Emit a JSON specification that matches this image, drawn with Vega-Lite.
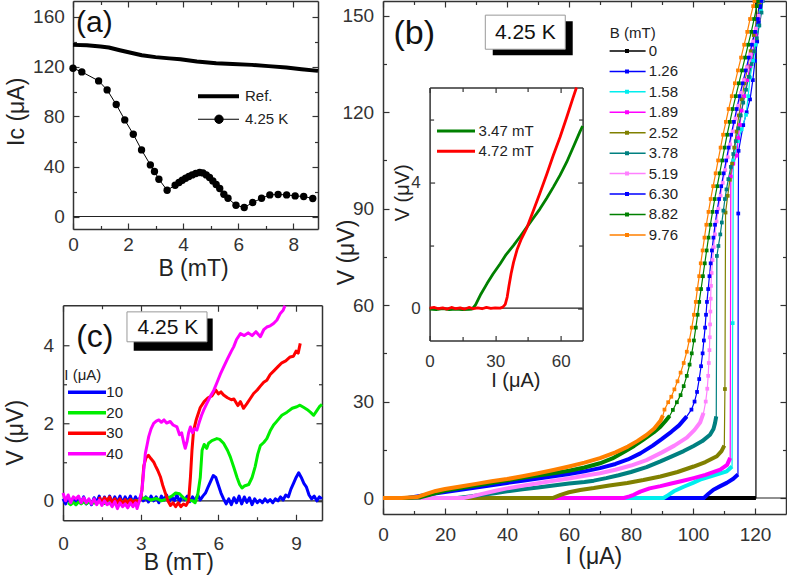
{
"$schema": "https://vega.github.io/schema/vega-lite/v6.json",
"background": "white",
"padding": {"left": 4, "top": -2, "right": 0, "bottom": 0},
"config": {
 "view": {"stroke": null},
 "font": "Liberation Sans",
 "axis": {"domainColor": "#333", "domainWidth": 1.5, "tickColor": "#333", "tickWidth": 1.2, "labelFont": "Liberation Sans", "labelFontSize": 19, "labelColor": "#333", "titleFont": "Liberation Sans", "titleFontSize": 23, "titleFontWeight": "normal", "titleColor": "#222", "grid": false, "labelFlush": false, "labelOverlap": false},
 "legend": {"padding": 0, "labelFont": "Liberation Sans", "titleFont": "Liberation Sans", "labelFontSize": 15, "titleFontSize": 15, "titleFontWeight": "normal", "labelColor": "#222", "titleColor": "#222"}
},
"datasets": {
 "a": [
  {"s":"Ref.","B":0,"Ic":137.3},{"s":"Ref.","B":0.5,"Ic":137},{"s":"Ref.","B":1.0,"Ic":136},{"s":"Ref.","B":1.3,"Ic":135.2},{"s":"Ref.","B":1.7,"Ic":133},{"s":"Ref.","B":2.1,"Ic":131},{"s":"Ref.","B":2.5,"Ic":129},{"s":"Ref.","B":3.0,"Ic":127.5},{"s":"Ref.","B":3.5,"Ic":126.5},{"s":"Ref.","B":3.9,"Ic":125.8},{"s":"Ref.","B":4.5,"Ic":124},{"s":"Ref.","B":5.2,"Ic":122.6},{"s":"Ref.","B":5.8,"Ic":122},{"s":"Ref.","B":6.5,"Ic":121.3},{"s":"Ref.","B":7.1,"Ic":120.3},{"s":"Ref.","B":7.75,"Ic":119.2},{"s":"Ref.","B":8.3,"Ic":117.8},{"s":"Ref.","B":8.9,"Ic":116.5},
  {"s":"4.25 K","B":0,"Ic":118.6},{"s":"4.25 K","B":0.32,"Ic":115.7},{"s":"4.25 K","B":0.93,"Ic":108.5},{"s":"4.25 K","B":1.24,"Ic":101.3},{"s":"4.25 K","B":1.57,"Ic":89.6},{"s":"4.25 K","B":1.88,"Ic":77.3},{"s":"4.25 K","B":2.19,"Ic":65.8},{"s":"4.25 K","B":2.49,"Ic":53.3},{"s":"4.25 K","B":2.81,"Ic":41.3},{"s":"4.25 K","B":2.96,"Ic":36},{"s":"4.25 K","B":3.12,"Ic":29.8},{"s":"4.25 K","B":3.42,"Ic":21},{"s":"4.25 K","B":3.71,"Ic":25},{"s":"4.25 K","B":3.85,"Ic":27.2},{"s":"4.25 K","B":3.97,"Ic":29},{"s":"4.25 K","B":4.09,"Ic":30.6},{"s":"4.25 K","B":4.21,"Ic":32},{"s":"4.25 K","B":4.33,"Ic":33.3},{"s":"4.25 K","B":4.46,"Ic":34.4},{"s":"4.25 K","B":4.6,"Ic":35.2},{"s":"4.25 K","B":4.72,"Ic":34.9},{"s":"4.25 K","B":4.84,"Ic":33.3},{"s":"4.25 K","B":4.96,"Ic":31.2},{"s":"4.25 K","B":5.08,"Ic":28.5},{"s":"4.25 K","B":5.2,"Ic":25.6},{"s":"4.25 K","B":5.33,"Ic":22.4},{"s":"4.25 K","B":5.48,"Ic":17.8},{"s":"4.25 K","B":5.63,"Ic":14.6},{"s":"4.25 K","B":5.92,"Ic":9},{"s":"4.25 K","B":6.22,"Ic":7.2},{"s":"4.25 K","B":6.53,"Ic":11.2},{"s":"4.25 K","B":6.85,"Ic":14.6},{"s":"4.25 K","B":7.15,"Ic":17.3},{"s":"4.25 K","B":7.45,"Ic":17.6},{"s":"4.25 K","B":7.76,"Ic":17.3},{"s":"4.25 K","B":8.07,"Ic":16.5},{"s":"4.25 K","B":8.38,"Ic":16},{"s":"4.25 K","B":8.71,"Ic":14.4}
 ],
 "b": [
  {"B":"0","I":0,"V":0},{"B":"0","I":10,"V":0},{"B":"0","I":20,"V":0},{"B":"0","I":30,"V":0},{"B":"0","I":40,"V":0},{"B":"0","I":50,"V":0},{"B":"0","I":60,"V":0},{"B":"0","I":70,"V":0},{"B":"0","I":80,"V":0},{"B":"0","I":90,"V":0},{"B":"0","I":100,"V":0},{"B":"0","I":110,"V":0},{"B":"0","I":120.3,"V":0},{"B":"0","I":120.4,"V":154.6},
  {"B":"1.26","I":0,"V":0},{"B":"1.26","I":20,"V":0},{"B":"1.26","I":40,"V":0},{"B":"1.26","I":60,"V":0},{"B":"1.26","I":80,"V":0},{"B":"1.26","I":100,"V":0},{"B":"1.26","I":103.5,"V":0},{"B":"1.26","I":105,"V":1.3},{"B":"1.26","I":106.6,"V":2.6},{"B":"1.26","I":108.8,"V":3.7},{"B":"1.26","I":110.9,"V":4.7},{"B":"1.26","I":113,"V":6.0},{"B":"1.26","I":114.5,"V":7.3},{"B":"1.26","I":114.6,"V":88.5},{"B":"1.26","I":114.7,"V":108},{"B":"1.26","I":116.2,"V":116},{"B":"1.26","I":117.3,"V":120},{"B":"1.26","I":118.4,"V":124},{"B":"1.26","I":119.3,"V":130},{"B":"1.26","I":120,"V":136},{"B":"1.26","I":120.7,"V":142},{"B":"1.26","I":121.2,"V":148},{"B":"1.26","I":121.6,"V":152},{"B":"1.26","I":121.8,"V":154.6},
  {"B":"1.58","I":0,"V":0},{"B":"1.58","I":20,"V":0},{"B":"1.58","I":40,"V":0},{"B":"1.58","I":60,"V":0},{"B":"1.58","I":80,"V":0},{"B":"1.58","I":90.5,"V":0},{"B":"1.58","I":92,"V":0.9},{"B":"1.58","I":93.8,"V":2.1},{"B":"1.58","I":97,"V":3.5},{"B":"1.58","I":100,"V":4.7},{"B":"1.58","I":102.3,"V":5.7},{"B":"1.58","I":106.5,"V":7.0},{"B":"1.58","I":110.9,"V":8.3},{"B":"1.58","I":112.6,"V":9.8},{"B":"1.58","I":112.8,"V":54.4},{"B":"1.58","I":113,"V":105},{"B":"1.58","I":114.5,"V":111},{"B":"1.58","I":115.7,"V":114.7},{"B":"1.58","I":117.1,"V":119.2},{"B":"1.58","I":117.8,"V":125},{"B":"1.58","I":118.4,"V":130.8},{"B":"1.58","I":119.4,"V":136},{"B":"1.58","I":120.2,"V":141},{"B":"1.58","I":121.1,"V":146.8},{"B":"1.58","I":121.9,"V":151.5},{"B":"1.58","I":122.3,"V":154.6},
  {"B":"1.89","I":0,"V":0},{"B":"1.89","I":20,"V":0},{"B":"1.89","I":40,"V":0},{"B":"1.89","I":60,"V":0},{"B":"1.89","I":77.7,"V":0},{"B":"1.89","I":79.5,"V":0.5},{"B":"1.89","I":80.9,"V":1.0},{"B":"1.89","I":83,"V":2.0},{"B":"1.89","I":86,"V":3.0},{"B":"1.89","I":89.5,"V":3.7},{"B":"1.89","I":93,"V":4.5},{"B":"1.89","I":96.5,"V":5.3},{"B":"1.89","I":100.2,"V":6.2},{"B":"1.89","I":104,"V":7.2},{"B":"1.89","I":108.8,"V":8.8},{"B":"1.89","I":111,"V":10.3},{"B":"1.89","I":112,"V":12.5},{"B":"1.89","I":112.2,"V":100},{"B":"1.89","I":113,"V":104},{"B":"1.89","I":114.1,"V":106.5},{"B":"1.89","I":114.6,"V":112},{"B":"1.89","I":115.1,"V":116},{"B":"1.89","I":115.7,"V":120.5},{"B":"1.89","I":116.5,"V":125},{"B":"1.89","I":117.5,"V":130},{"B":"1.89","I":118.4,"V":134.4},{"B":"1.89","I":119.3,"V":139},{"B":"1.89","I":120.2,"V":144},{"B":"1.89","I":121.1,"V":149},{"B":"1.89","I":121.9,"V":154.6},
  {"B":"2.52","I":0,"V":0},{"B":"2.52","I":20,"V":0},{"B":"2.52","I":40,"V":0},{"B":"2.52","I":54.7,"V":0},{"B":"2.52","I":57.3,"V":1.0},{"B":"2.52","I":60,"V":1.8},{"B":"2.52","I":63.6,"V":2.5},{"B":"2.52","I":68,"V":3.1},{"B":"2.52","I":73,"V":3.9},{"B":"2.52","I":78.8,"V":4.7},{"B":"2.52","I":84,"V":5.6},{"B":"2.52","I":89.5,"V":6.7},{"B":"2.52","I":95,"V":8.1},{"B":"2.52","I":100.2,"V":9.8},{"B":"2.52","I":104,"V":11.2},{"B":"2.52","I":107.7,"V":13.0},{"B":"2.52","I":109.2,"V":14.6},{"B":"2.52","I":110.1,"V":16.3},{"B":"2.52","I":110.3,"V":33.9},{"B":"2.52","I":110.5,"V":88.8},{"B":"2.52","I":111.2,"V":94},{"B":"2.52","I":111.9,"V":99},{"B":"2.52","I":112.6,"V":104},{"B":"2.52","I":113.3,"V":109},{"B":"2.52","I":114,"V":114},{"B":"2.52","I":114.8,"V":119},{"B":"2.52","I":115.7,"V":124},{"B":"2.52","I":116.6,"V":129},{"B":"2.52","I":117.6,"V":134},{"B":"2.52","I":118.6,"V":139},{"B":"2.52","I":119.6,"V":144},{"B":"2.52","I":120.6,"V":149},{"B":"2.52","I":121.5,"V":154},{"B":"2.52","I":121.6,"V":154.6},
  {"B":"3.78","I":0,"V":0},{"B":"3.78","I":12,"V":0},{"B":"3.78","I":24,"V":0},{"B":"3.78","I":28,"V":0.5},{"B":"3.78","I":32,"V":1.0},{"B":"3.78","I":36,"V":1.5},{"B":"3.78","I":40,"V":2.1},{"B":"3.78","I":45,"V":2.7},{"B":"3.78","I":50,"V":3.3},{"B":"3.78","I":55,"V":3.9},{"B":"3.78","I":60,"V":4.5},{"B":"3.78","I":65,"V":5.0},{"B":"3.78","I":68,"V":5.4},{"B":"3.78","I":72,"V":6.2},{"B":"3.78","I":76,"V":7.1},{"B":"3.78","I":80,"V":8.1},{"B":"3.78","I":85,"V":9.6},{"B":"3.78","I":89.5,"V":11.4},{"B":"3.78","I":93,"V":12.9},{"B":"3.78","I":97,"V":14.6},{"B":"3.78","I":100.2,"V":16.2},{"B":"3.78","I":103,"V":17.7},{"B":"3.78","I":105.5,"V":19.7},{"B":"3.78","I":106.6,"V":21.5},{"B":"3.78","I":107.1,"V":23.3},{"B":"3.78","I":107.5,"V":25.4},{"B":"3.78","I":107.7,"V":75.3},{"B":"3.78","I":108.2,"V":78.4},{"B":"3.78","I":108.8,"V":82},{"B":"3.78","I":109.3,"V":85.7},{"B":"3.78","I":109.8,"V":89.4},{"B":"3.78","I":110.3,"V":93},{"B":"3.78","I":110.8,"V":96},{"B":"3.78","I":111.4,"V":99.2},{"B":"3.78","I":112.2,"V":103},{"B":"3.78","I":113,"V":107},{"B":"3.78","I":113.8,"V":111},{"B":"3.78","I":114.6,"V":115},{"B":"3.78","I":115.4,"V":119},{"B":"3.78","I":116.2,"V":123},{"B":"3.78","I":117.1,"V":127},{"B":"3.78","I":118,"V":131},{"B":"3.78","I":118.9,"V":135},{"B":"3.78","I":119.8,"V":139},{"B":"3.78","I":120.6,"V":143},{"B":"3.78","I":121.4,"V":147},{"B":"3.78","I":122.1,"V":151},{"B":"3.78","I":122.5,"V":154.6},
  {"B":"5.19","I":0,"V":0},{"B":"5.19","I":13,"V":0},{"B":"5.19","I":26,"V":0},{"B":"5.19","I":29,"V":0.6},{"B":"5.19","I":32,"V":1.3},{"B":"5.19","I":36,"V":2.2},{"B":"5.19","I":40,"V":3.0},{"B":"5.19","I":45,"V":3.8},{"B":"5.19","I":50,"V":4.6},{"B":"5.19","I":55,"V":5.4},{"B":"5.19","I":60,"V":6.1},{"B":"5.19","I":65,"V":6.9},{"B":"5.19","I":70,"V":7.7},{"B":"5.19","I":75,"V":8.8},{"B":"5.19","I":80,"V":10.1},{"B":"5.19","I":85,"V":11.8},{"B":"5.19","I":90,"V":14.2},{"B":"5.19","I":94,"V":16.3},{"B":"5.19","I":98,"V":18.8},{"B":"5.19","I":100.5,"V":21.2},{"B":"5.19","I":102.3,"V":23.5},{"B":"5.19","I":103.4,"V":26.5},{"B":"5.19","I":104.1,"V":30},{"B":"5.19","I":104.6,"V":34},{"B":"5.19","I":104.9,"V":38},{"B":"5.19","I":105.1,"V":42},{"B":"5.19","I":105.3,"V":46},{"B":"5.19","I":105.4,"V":50},{"B":"5.19","I":105.5,"V":54},{"B":"5.19","I":105.6,"V":58},{"B":"5.19","I":105.7,"V":62},{"B":"5.19","I":105.8,"V":66},{"B":"5.19","I":106.0,"V":70},{"B":"5.19","I":106.3,"V":74},{"B":"5.19","I":106.7,"V":78},{"B":"5.19","I":107.1,"V":82},{"B":"5.19","I":107.6,"V":86},{"B":"5.19","I":108.2,"V":90},{"B":"5.19","I":108.9,"V":94},{"B":"5.19","I":109.6,"V":98},{"B":"5.19","I":110.4,"V":102},{"B":"5.19","I":111.2,"V":106},{"B":"5.19","I":112.0,"V":110},{"B":"5.19","I":112.8,"V":114},{"B":"5.19","I":113.7,"V":118},{"B":"5.19","I":114.6,"V":122},{"B":"5.19","I":115.5,"V":126},{"B":"5.19","I":116.4,"V":130},{"B":"5.19","I":117.4,"V":134},{"B":"5.19","I":118.4,"V":138},{"B":"5.19","I":119.4,"V":142},{"B":"5.19","I":120.3,"V":146},{"B":"5.19","I":121.2,"V":150},{"B":"5.19","I":122.1,"V":154.6},
  {"B":"6.30","I":0,"V":0},{"B":"6.30","I":8,"V":0},{"B":"6.30","I":11,"V":0.5},{"B":"6.30","I":15,"V":1.2},{"B":"6.30","I":20,"V":1.9},{"B":"6.30","I":25,"V":2.6},{"B":"6.30","I":30,"V":3.3},{"B":"6.30","I":35,"V":4.0},{"B":"6.30","I":40,"V":4.7},{"B":"6.30","I":45,"V":5.4},{"B":"6.30","I":50,"V":6.1},{"B":"6.30","I":55,"V":6.8},{"B":"6.30","I":60,"V":7.5},{"B":"6.30","I":65,"V":8.3},{"B":"6.30","I":70,"V":9.3},{"B":"6.30","I":75,"V":10.6},{"B":"6.30","I":79,"V":12.0},{"B":"6.30","I":83,"V":13.9},{"B":"6.30","I":87,"V":16.3},{"B":"6.30","I":90,"V":18.4},{"B":"6.30","I":93,"V":20.6},{"B":"6.30","I":95.5,"V":22.6},{"B":"6.30","I":98,"V":25.4},{"B":"6.30","I":99.5,"V":27.5},{"B":"6.30","I":100.5,"V":30},{"B":"6.30","I":101.3,"V":33},{"B":"6.30","I":102,"V":37},{"B":"6.30","I":102.6,"V":41},{"B":"6.30","I":103.1,"V":45},{"B":"6.30","I":103.5,"V":49},{"B":"6.30","I":103.9,"V":53},{"B":"6.30","I":104.2,"V":57},{"B":"6.30","I":104.5,"V":61},{"B":"6.30","I":104.9,"V":65},{"B":"6.30","I":105.3,"V":69},{"B":"6.30","I":105.7,"V":73},{"B":"6.30","I":106.1,"V":77},{"B":"6.30","I":106.6,"V":81},{"B":"6.30","I":107.1,"V":85},{"B":"6.30","I":107.7,"V":89},{"B":"6.30","I":108.4,"V":93},{"B":"6.30","I":109.1,"V":97},{"B":"6.30","I":109.9,"V":101},{"B":"6.30","I":110.7,"V":105},{"B":"6.30","I":111.5,"V":109},{"B":"6.30","I":112.3,"V":113},{"B":"6.30","I":113.2,"V":117},{"B":"6.30","I":114.1,"V":121},{"B":"6.30","I":115,"V":125},{"B":"6.30","I":116,"V":129},{"B":"6.30","I":117,"V":133},{"B":"6.30","I":118,"V":137},{"B":"6.30","I":119,"V":141},{"B":"6.30","I":120,"V":145},{"B":"6.30","I":120.9,"V":149},{"B":"6.30","I":121.7,"V":153},{"B":"6.30","I":122,"V":154.6},
  {"B":"8.82","I":0,"V":0},{"B":"8.82","I":7,"V":0},{"B":"8.82","I":12,"V":0.2},{"B":"8.82","I":15,"V":1.0},{"B":"8.82","I":20,"V":2.3},{"B":"8.82","I":25,"V":3.1},{"B":"8.82","I":30,"V":3.9},{"B":"8.82","I":35,"V":4.7},{"B":"8.82","I":40,"V":5.5},{"B":"8.82","I":45,"V":6.3},{"B":"8.82","I":50,"V":7.0},{"B":"8.82","I":55,"V":7.7},{"B":"8.82","I":60,"V":8.5},{"B":"8.82","I":65,"V":9.5},{"B":"8.82","I":70,"V":10.8},{"B":"8.82","I":74,"V":12.3},{"B":"8.82","I":77.7,"V":14.3},{"B":"8.82","I":81,"V":16.2},{"B":"8.82","I":84,"V":18.2},{"B":"8.82","I":87.3,"V":20.4},{"B":"8.82","I":89.5,"V":22.2},{"B":"8.82","I":91,"V":23.8},{"B":"8.82","I":92.5,"V":25.6},{"B":"8.82","I":93.5,"V":27.4},{"B":"8.82","I":94.8,"V":29.8},{"B":"8.82","I":96,"V":32},{"B":"8.82","I":97,"V":34.8},{"B":"8.82","I":98,"V":38},{"B":"8.82","I":98.9,"V":41.5},{"B":"8.82","I":99.6,"V":45},{"B":"8.82","I":100.3,"V":49},{"B":"8.82","I":100.9,"V":53},{"B":"8.82","I":101.5,"V":57},{"B":"8.82","I":102,"V":61},{"B":"8.82","I":102.6,"V":65},{"B":"8.82","I":103.2,"V":69},{"B":"8.82","I":103.8,"V":73},{"B":"8.82","I":104.4,"V":77},{"B":"8.82","I":105,"V":81},{"B":"8.82","I":105.6,"V":85},{"B":"8.82","I":106.3,"V":89},{"B":"8.82","I":107,"V":93},{"B":"8.82","I":107.8,"V":97},{"B":"8.82","I":108.6,"V":101},{"B":"8.82","I":109.4,"V":105},{"B":"8.82","I":110.2,"V":109},{"B":"8.82","I":111,"V":113},{"B":"8.82","I":111.9,"V":117},{"B":"8.82","I":112.8,"V":121},{"B":"8.82","I":113.8,"V":125},{"B":"8.82","I":114.8,"V":129},{"B":"8.82","I":115.8,"V":133},{"B":"8.82","I":116.8,"V":137},{"B":"8.82","I":117.8,"V":141},{"B":"8.82","I":118.8,"V":145},{"B":"8.82","I":119.7,"V":149},{"B":"8.82","I":120.6,"V":153},{"B":"8.82","I":120.9,"V":154.6},
  {"B":"9.76","I":0,"V":0},{"B":"9.76","I":6,"V":0},{"B":"9.76","I":11,"V":0.3},{"B":"9.76","I":14,"V":1.3},{"B":"9.76","I":17,"V":2.2},{"B":"9.76","I":20,"V":2.8},{"B":"9.76","I":25,"V":3.6},{"B":"9.76","I":30,"V":4.4},{"B":"9.76","I":35,"V":5.2},{"B":"9.76","I":40,"V":5.9},{"B":"9.76","I":45,"V":6.8},{"B":"9.76","I":50,"V":7.7},{"B":"9.76","I":55,"V":8.7},{"B":"9.76","I":60,"V":9.8},{"B":"9.76","I":65,"V":11.0},{"B":"9.76","I":70,"V":12.4},{"B":"9.76","I":75,"V":14.2},{"B":"9.76","I":79,"V":16.0},{"B":"9.76","I":82,"V":17.7},{"B":"9.76","I":85,"V":19.6},{"B":"9.76","I":87.5,"V":21.6},{"B":"9.76","I":89.5,"V":24.0},{"B":"9.76","I":90.3,"V":25.7},{"B":"9.76","I":90.8,"V":27.5},{"B":"9.76","I":92,"V":29.8},{"B":"9.76","I":93,"V":31.5},{"B":"9.76","I":94,"V":33.8},{"B":"9.76","I":95,"V":36.3},{"B":"9.76","I":96,"V":39},{"B":"9.76","I":97,"V":42},{"B":"9.76","I":98,"V":45.5},{"B":"9.76","I":98.8,"V":49},{"B":"9.76","I":99.6,"V":53},{"B":"9.76","I":100.3,"V":57},{"B":"9.76","I":100.9,"V":61},{"B":"9.76","I":101.4,"V":65},{"B":"9.76","I":102,"V":69},{"B":"9.76","I":102.5,"V":73},{"B":"9.76","I":103.1,"V":77},{"B":"9.76","I":103.7,"V":81},{"B":"9.76","I":104.3,"V":85},{"B":"9.76","I":105,"V":89},{"B":"9.76","I":105.7,"V":93},{"B":"9.76","I":106.5,"V":97},{"B":"9.76","I":107.3,"V":101},{"B":"9.76","I":108.1,"V":105},{"B":"9.76","I":108.9,"V":109},{"B":"9.76","I":109.7,"V":113},{"B":"9.76","I":110.6,"V":117},{"B":"9.76","I":111.5,"V":121},{"B":"9.76","I":112.5,"V":125},{"B":"9.76","I":113.5,"V":129},{"B":"9.76","I":114.5,"V":133},{"B":"9.76","I":115.5,"V":137},{"B":"9.76","I":116.5,"V":141},{"B":"9.76","I":117.5,"V":145},{"B":"9.76","I":118.4,"V":149},{"B":"9.76","I":119.4,"V":153},{"B":"9.76","I":119.8,"V":154.6}
 ],
 "c": [
  {"I":"10","B":0.0,"V":0.05},{"I":"10","B":0.1,"V":-0.08},{"I":"10","B":0.2,"V":0.1},{"I":"10","B":0.3,"V":-0.05},{"I":"10","B":0.4,"V":0.08},{"I":"10","B":0.5,"V":-0.1},{"I":"10","B":0.6,"V":0.05},{"I":"10","B":0.7,"V":-0.06},{"I":"10","B":0.8,"V":0.1},{"I":"10","B":0.9,"V":-0.08},{"I":"10","B":1.0,"V":0.02},{"I":"10","B":1.1,"V":-0.1},{"I":"10","B":1.2,"V":0.08},{"I":"10","B":1.3,"V":-0.04},{"I":"10","B":1.4,"V":0.12},{"I":"10","B":1.5,"V":-0.08},{"I":"10","B":1.6,"V":0.1},{"I":"10","B":1.7,"V":-0.05},{"I":"10","B":1.8,"V":0.12},{"I":"10","B":1.9,"V":-0.06},{"I":"10","B":2.0,"V":0.1},{"I":"10","B":2.1,"V":-0.04},{"I":"10","B":2.2,"V":0.12},{"I":"10","B":2.3,"V":-0.06},{"I":"10","B":2.4,"V":0.1},{"I":"10","B":2.5,"V":-0.03},{"I":"10","B":2.6,"V":0.12},{"I":"10","B":2.7,"V":-0.05},{"I":"10","B":2.8,"V":0.1},{"I":"10","B":2.9,"V":-0.02},{"I":"10","B":3.0,"V":0.12},{"I":"10","B":3.1,"V":0.0},{"I":"10","B":3.2,"V":0.1},{"I":"10","B":3.3,"V":-0.03},{"I":"10","B":3.4,"V":0.12},{"I":"10","B":3.5,"V":0.0},{"I":"10","B":3.6,"V":0.1},{"I":"10","B":3.7,"V":-0.05},{"I":"10","B":3.8,"V":0.12},{"I":"10","B":3.9,"V":0.02},{"I":"10","B":4.0,"V":0.15},{"I":"10","B":4.1,"V":-0.02},{"I":"10","B":4.2,"V":0.1},{"I":"10","B":4.3,"V":0.0},{"I":"10","B":4.4,"V":0.15},{"I":"10","B":4.5,"V":-0.02},{"I":"10","B":4.6,"V":0.1},{"I":"10","B":4.7,"V":0.03},{"I":"10","B":4.8,"V":0.12},{"I":"10","B":4.9,"V":-0.02},{"I":"10","B":5.0,"V":0.1},{"I":"10","B":5.1,"V":0.0},{"I":"10","B":5.2,"V":0.15},{"I":"10","B":5.3,"V":0.02},{"I":"10","B":5.4,"V":0.12},{"I":"10","B":5.5,"V":0.2},{"I":"10","B":5.6,"V":0.35},{"I":"10","B":5.7,"V":0.5},{"I":"10","B":5.8,"V":0.65},{"I":"10","B":5.9,"V":0.6},{"I":"10","B":6.0,"V":0.4},{"I":"10","B":6.1,"V":0.2},{"I":"10","B":6.2,"V":0.05},{"I":"10","B":6.3,"V":-0.08},{"I":"10","B":6.4,"V":0.05},{"I":"10","B":6.5,"V":-0.1},{"I":"10","B":6.6,"V":0.08},{"I":"10","B":6.7,"V":-0.05},{"I":"10","B":6.8,"V":0.12},{"I":"10","B":6.9,"V":-0.08},{"I":"10","B":7.0,"V":0.1},{"I":"10","B":7.1,"V":-0.04},{"I":"10","B":7.2,"V":0.08},{"I":"10","B":7.3,"V":-0.1},{"I":"10","B":7.4,"V":0.05},{"I":"10","B":7.5,"V":-0.05},{"I":"10","B":7.6,"V":0.02},{"I":"10","B":7.7,"V":-0.05},{"I":"10","B":7.8,"V":0.05},{"I":"10","B":7.9,"V":-0.03},{"I":"10","B":8.0,"V":0.03},{"I":"10","B":8.1,"V":-0.05},{"I":"10","B":8.2,"V":0.05},{"I":"10","B":8.3,"V":0.0},{"I":"10","B":8.4,"V":0.1},{"I":"10","B":8.5,"V":0.02},{"I":"10","B":8.6,"V":0.15},{"I":"10","B":8.7,"V":0.1},{"I":"10","B":8.8,"V":0.3},{"I":"10","B":8.9,"V":0.45},{"I":"10","B":9.0,"V":0.6},{"I":"10","B":9.1,"V":0.72},{"I":"10","B":9.2,"V":0.6},{"I":"10","B":9.3,"V":0.45},{"I":"10","B":9.4,"V":0.35},{"I":"10","B":9.5,"V":0.15},{"I":"10","B":9.6,"V":0.05},{"I":"10","B":9.7,"V":0.12},{"I":"10","B":9.8,"V":0.0},{"I":"10","B":9.9,"V":0.1},{"I":"10","B":10.0,"V":0.05},
  {"I":"20","B":0.2,"V":-0.05},{"I":"20","B":0.3,"V":-0.1},{"I":"20","B":0.4,"V":-0.04},{"I":"20","B":0.5,"V":-0.1},{"I":"20","B":0.6,"V":-0.03},{"I":"20","B":0.7,"V":-0.08},{"I":"20","B":0.8,"V":-0.02},{"I":"20","B":0.9,"V":-0.08},{"I":"20","B":1.0,"V":-0.03},{"I":"20","B":1.2,"V":-0.06},{"I":"20","B":1.4,"V":-0.02},{"I":"20","B":1.6,"V":-0.07},{"I":"20","B":1.8,"V":-0.02},{"I":"20","B":2.0,"V":-0.05},{"I":"20","B":2.2,"V":0.0},{"I":"20","B":2.4,"V":-0.04},{"I":"20","B":2.6,"V":0.02},{"I":"20","B":2.8,"V":-0.03},{"I":"20","B":3.0,"V":0.05},{"I":"20","B":3.2,"V":0.08},{"I":"20","B":3.4,"V":0.02},{"I":"20","B":3.6,"V":0.06},{"I":"20","B":3.8,"V":0.0},{"I":"20","B":4.0,"V":0.05},{"I":"20","B":4.2,"V":0.12},{"I":"20","B":4.35,"V":0.2},{"I":"20","B":4.5,"V":0.18},{"I":"20","B":4.65,"V":0.08},{"I":"20","B":4.8,"V":0.02},{"I":"20","B":5.0,"V":0.0},{"I":"20","B":5.1,"V":-0.05},{"I":"20","B":5.2,"V":0.15},{"I":"20","B":5.3,"V":0.6},{"I":"20","B":5.37,"V":1.3},{"I":"20","B":5.45,"V":1.45},{"I":"20","B":5.55,"V":1.35},{"I":"20","B":5.62,"V":1.48},{"I":"20","B":5.75,"V":1.55},{"I":"20","B":5.94,"V":1.6},{"I":"20","B":6.05,"V":1.58},{"I":"20","B":6.2,"V":1.48},{"I":"20","B":6.35,"V":1.3},{"I":"20","B":6.46,"V":1.13},{"I":"20","B":6.6,"V":0.85},{"I":"20","B":6.72,"V":0.6},{"I":"20","B":6.82,"V":0.42},{"I":"20","B":6.91,"V":0.33},{"I":"20","B":7.0,"V":0.38},{"I":"20","B":7.17,"V":0.42},{"I":"20","B":7.3,"V":0.6},{"I":"20","B":7.42,"V":0.88},{"I":"20","B":7.52,"V":1.2},{"I":"20","B":7.62,"V":1.42},{"I":"20","B":7.75,"V":1.5},{"I":"20","B":7.87,"V":1.6},{"I":"20","B":8.0,"V":1.8},{"I":"20","B":8.13,"V":1.95},{"I":"20","B":8.26,"V":2.05},{"I":"20","B":8.45,"V":2.2},{"I":"20","B":8.65,"V":2.28},{"I":"20","B":8.85,"V":2.38},{"I":"20","B":9.03,"V":2.42},{"I":"20","B":9.15,"V":2.46},{"I":"20","B":9.3,"V":2.4},{"I":"20","B":9.42,"V":2.35},{"I":"20","B":9.55,"V":2.28},{"I":"20","B":9.68,"V":2.2},{"I":"20","B":9.8,"V":2.32},{"I":"20","B":9.9,"V":2.42},{"I":"20","B":10.0,"V":2.48},
  {"I":"30","B":1.4,"V":0.1},{"I":"30","B":1.5,"V":-0.05},{"I":"30","B":1.6,"V":0.08},{"I":"30","B":1.7,"V":0.0},{"I":"30","B":1.8,"V":0.1},{"I":"30","B":1.9,"V":-0.05},{"I":"30","B":2.0,"V":0.05},{"I":"30","B":2.1,"V":-0.06},{"I":"30","B":2.2,"V":0.05},{"I":"30","B":2.3,"V":-0.08},{"I":"30","B":2.4,"V":0.03},{"I":"30","B":2.5,"V":-0.06},{"I":"30","B":2.6,"V":0.04},{"I":"30","B":2.7,"V":-0.05},{"I":"30","B":2.8,"V":0.02},{"I":"30","B":2.9,"V":-0.04},{"I":"30","B":3.0,"V":0.05},{"I":"30","B":3.05,"V":0.3},{"I":"30","B":3.12,"V":0.9},{"I":"30","B":3.2,"V":1.1},{"I":"30","B":3.3,"V":1.17},{"I":"30","B":3.4,"V":1.08},{"I":"30","B":3.5,"V":1.0},{"I":"30","B":3.57,"V":0.9},{"I":"30","B":3.66,"V":0.78},{"I":"30","B":3.76,"V":0.62},{"I":"30","B":3.85,"V":0.4},{"I":"30","B":3.95,"V":0.2},{"I":"30","B":4.05,"V":0.0},{"I":"30","B":4.15,"V":-0.12},{"I":"30","B":4.25,"V":-0.05},{"I":"30","B":4.35,"V":-0.15},{"I":"30","B":4.45,"V":-0.05},{"I":"30","B":4.55,"V":-0.15},{"I":"30","B":4.65,"V":-0.08},{"I":"30","B":4.75,"V":-0.12},{"I":"30","B":4.85,"V":0.0},{"I":"30","B":4.92,"V":0.6},{"I":"30","B":4.98,"V":1.3},{"I":"30","B":5.04,"V":1.8},{"I":"30","B":5.15,"V":2.1},{"I":"30","B":5.3,"V":2.4},{"I":"30","B":5.45,"V":2.55},{"I":"30","B":5.6,"V":2.65},{"I":"30","B":5.75,"V":2.7},{"I":"30","B":5.9,"V":2.85},{"I":"30","B":6.0,"V":2.75},{"I":"30","B":6.1,"V":2.8},{"I":"30","B":6.2,"V":2.72},{"I":"30","B":6.35,"V":2.65},{"I":"30","B":6.5,"V":2.6},{"I":"30","B":6.6,"V":2.62},{"I":"30","B":6.75,"V":2.45},{"I":"30","B":6.85,"V":2.55},{"I":"30","B":6.97,"V":2.38},{"I":"30","B":7.1,"V":2.5},{"I":"30","B":7.2,"V":2.6},{"I":"30","B":7.36,"V":2.76},{"I":"30","B":7.5,"V":2.85},{"I":"30","B":7.62,"V":2.95},{"I":"30","B":7.75,"V":3.05},{"I":"30","B":7.87,"V":3.1},{"I":"30","B":8.0,"V":3.25},{"I":"30","B":8.15,"V":3.35},{"I":"30","B":8.3,"V":3.45},{"I":"30","B":8.45,"V":3.55},{"I":"30","B":8.6,"V":3.6},{"I":"30","B":8.77,"V":3.7},{"I":"30","B":8.9,"V":3.72},{"I":"30","B":9.0,"V":3.85},{"I":"30","B":9.08,"V":3.8},{"I":"30","B":9.16,"V":4.05},
  {"I":"40","B":0.0,"V":0.2},{"I":"40","B":0.1,"V":0.0},{"I":"40","B":0.2,"V":0.15},{"I":"40","B":0.3,"V":-0.05},{"I":"40","B":0.4,"V":0.1},{"I":"40","B":0.5,"V":0.05},{"I":"40","B":0.6,"V":0.12},{"I":"40","B":0.7,"V":-0.05},{"I":"40","B":0.8,"V":0.08},{"I":"40","B":0.9,"V":-0.05},{"I":"40","B":1.0,"V":0.05},{"I":"40","B":1.1,"V":-0.08},{"I":"40","B":1.2,"V":0.05},{"I":"40","B":1.3,"V":-0.1},{"I":"40","B":1.4,"V":0.02},{"I":"40","B":1.5,"V":-0.12},{"I":"40","B":1.6,"V":0.0},{"I":"40","B":1.7,"V":-0.1},{"I":"40","B":1.8,"V":-0.05},{"I":"40","B":1.9,"V":-0.15},{"I":"40","B":2.0,"V":-0.02},{"I":"40","B":2.1,"V":-0.2},{"I":"40","B":2.2,"V":-0.05},{"I":"40","B":2.3,"V":-0.15},{"I":"40","B":2.4,"V":-0.08},{"I":"40","B":2.5,"V":-0.18},{"I":"40","B":2.6,"V":-0.05},{"I":"40","B":2.7,"V":-0.15},{"I":"40","B":2.8,"V":-0.05},{"I":"40","B":2.86,"V":-0.2},{"I":"40","B":2.95,"V":0.0},{"I":"40","B":3.05,"V":0.27},{"I":"40","B":3.12,"V":0.8},{"I":"40","B":3.18,"V":1.22},{"I":"40","B":3.25,"V":1.45},{"I":"40","B":3.31,"V":1.65},{"I":"40","B":3.4,"V":1.85},{"I":"40","B":3.5,"V":1.99},{"I":"40","B":3.6,"V":2.05},{"I":"40","B":3.7,"V":2.08},{"I":"40","B":3.8,"V":2.02},{"I":"40","B":3.9,"V":2.08},{"I":"40","B":4.0,"V":2.0},{"I":"40","B":4.14,"V":2.04},{"I":"40","B":4.25,"V":1.95},{"I":"40","B":4.4,"V":1.9},{"I":"40","B":4.5,"V":1.7},{"I":"40","B":4.58,"V":1.75},{"I":"40","B":4.66,"V":1.5},{"I":"40","B":4.72,"V":1.35},{"I":"40","B":4.79,"V":1.52},{"I":"40","B":4.85,"V":1.75},{"I":"40","B":4.92,"V":1.9},{"I":"40","B":5.0,"V":1.75},{"I":"40","B":5.08,"V":1.85},{"I":"40","B":5.17,"V":1.82},{"I":"40","B":5.25,"V":2.0},{"I":"40","B":5.35,"V":2.2},{"I":"40","B":5.43,"V":2.33},{"I":"40","B":5.55,"V":2.5},{"I":"40","B":5.7,"V":2.7},{"I":"40","B":5.82,"V":2.84},{"I":"40","B":5.95,"V":3.05},{"I":"40","B":6.07,"V":3.25},{"I":"40","B":6.2,"V":3.44},{"I":"40","B":6.35,"V":3.65},{"I":"40","B":6.5,"V":3.85},{"I":"40","B":6.59,"V":3.96},{"I":"40","B":6.7,"V":4.15},{"I":"40","B":6.85,"V":4.3},{"I":"40","B":7.0,"V":4.25},{"I":"40","B":7.15,"V":4.32},{"I":"40","B":7.3,"V":4.25},{"I":"40","B":7.45,"V":4.35},{"I":"40","B":7.62,"V":4.22},{"I":"40","B":7.75,"V":4.4},{"I":"40","B":7.87,"V":4.47},{"I":"40","B":8.0,"V":4.5},{"I":"40","B":8.13,"V":4.56},{"I":"40","B":8.26,"V":4.65},{"I":"40","B":8.39,"V":4.82},{"I":"40","B":8.5,"V":4.9},{"I":"40","B":8.57,"V":5.02}
 ],
 "ins": [
  {"m":"3.47 mT","I":0,"V":-0.03},{"m":"3.47 mT","I":3,"V":-0.05},{"m":"3.47 mT","I":6,"V":-0.02},{"m":"3.47 mT","I":9,"V":-0.05},{"m":"3.47 mT","I":12,"V":-0.03},{"m":"3.47 mT","I":15,"V":-0.05},{"m":"3.47 mT","I":18,"V":-0.04},{"m":"3.47 mT","I":19.4,"V":-0.03},{"m":"3.47 mT","I":20.9,"V":0.09},{"m":"3.47 mT","I":23.5,"V":0.45},{"m":"3.47 mT","I":26.2,"V":0.77},{"m":"3.47 mT","I":29,"V":1.08},{"m":"3.47 mT","I":32.3,"V":1.41},{"m":"3.47 mT","I":35,"V":1.7},{"m":"3.47 mT","I":38.4,"V":1.99},{"m":"3.47 mT","I":41.5,"V":2.28},{"m":"3.47 mT","I":44.5,"V":2.57},{"m":"3.47 mT","I":47.5,"V":2.86},{"m":"3.47 mT","I":50.5,"V":3.15},{"m":"3.47 mT","I":53.5,"V":3.48},{"m":"3.47 mT","I":56.6,"V":3.84},{"m":"3.47 mT","I":59.7,"V":4.22},{"m":"3.47 mT","I":62.7,"V":4.63},{"m":"3.47 mT","I":65.8,"V":5.12},{"m":"3.47 mT","I":68.8,"V":5.6},{"m":"3.47 mT","I":70,"V":5.78},
  {"m":"4.72 mT","I":0,"V":0.0},{"m":"4.72 mT","I":2,"V":0.02},{"m":"4.72 mT","I":4,"V":-0.02},{"m":"4.72 mT","I":6,"V":0.01},{"m":"4.72 mT","I":8,"V":-0.03},{"m":"4.72 mT","I":10,"V":0.02},{"m":"4.72 mT","I":12,"V":-0.02},{"m":"4.72 mT","I":14,"V":0.01},{"m":"4.72 mT","I":16,"V":-0.03},{"m":"4.72 mT","I":18,"V":0.02},{"m":"4.72 mT","I":20,"V":-0.02},{"m":"4.72 mT","I":22,"V":0.01},{"m":"4.72 mT","I":24,"V":-0.02},{"m":"4.72 mT","I":26,"V":0.02},{"m":"4.72 mT","I":28,"V":-0.01},{"m":"4.72 mT","I":30,"V":0.01},{"m":"4.72 mT","I":32.3,"V":0.0},{"m":"4.72 mT","I":33.5,"V":0.03},{"m":"4.72 mT","I":34.6,"V":0.12},{"m":"4.72 mT","I":35.5,"V":0.35},{"m":"4.72 mT","I":36.3,"V":0.7},{"m":"4.72 mT","I":37.3,"V":1.1},{"m":"4.72 mT","I":38.4,"V":1.45},{"m":"4.72 mT","I":40,"V":1.85},{"m":"4.72 mT","I":42,"V":2.2},{"m":"4.72 mT","I":44.5,"V":2.55},{"m":"4.72 mT","I":47.5,"V":3.1},{"m":"4.72 mT","I":50.5,"V":3.65},{"m":"4.72 mT","I":53.6,"V":4.25},{"m":"4.72 mT","I":56.6,"V":4.85},{"m":"4.72 mT","I":59.7,"V":5.43},{"m":"4.72 mT","I":62.7,"V":6.05},{"m":"4.72 mT","I":65.5,"V":6.65},{"m":"4.72 mT","I":67.2,"V":7.0}
 ]
},
"spacing": 11,
"resolve": {"scale": {"color": "independent", "strokeWidth": "independent"}, "legend": {"color": "independent", "strokeWidth": "independent"}},
"hconcat": [
 {
  "spacing": 23.25,
  "resolve": {"scale": {"color": "independent", "strokeWidth": "independent"}, "legend": {"color": "independent", "strokeWidth": "independent"}},
  "vconcat": [
   {
    "spacing": -68,
    "resolve": {"scale": {"color": "independent", "strokeWidth": "independent"}, "legend": {"color": "independent", "strokeWidth": "independent"}},
    "hconcat": [
     {"width": 9, "height": 1, "data": {"values": []}, "mark": "point"},
     {
      "width": 245, "height": 228,
      "layer": [
       {"data": {"values": [{}]}, "mark": {"type": "rule", "color": "#222", "strokeWidth": 1.2}, "encoding": {"y": {"datum": 0, "type": "quantitative", "axis": null, "scale": {"domain": [-10, 172.4], "nice": false, "zero": false}}}},
       {"data": {"name": "a"}, "mark": {"type": "line", "strokeJoin": "round"},
        "encoding": {
         "x": {"field": "B", "type": "quantitative", "scale": {"domain": [0, 8.9], "nice": false, "zero": false},
               "axis": {"orient": "bottom", "values": [0,1,2,3,4,5,6,7,8], "labelExpr": "datum.value % 2 === 0 ? datum.label : ''", "tickSize": {"condition": {"test": "datum.value % 2 === 0", "value": -6}, "value": -3.5}, "labelPadding": 12.2, "title": "B (mT)", "titleX": 120, "titleY": 28, "titleAlign": "center", "titleBaseline": "top", "titleAngle": 0}},
         "y": {"field": "Ic", "type": "quantitative",
               "axis": {"orient": "left", "values": [0,20,40,60,80,100,120,140,160], "labelExpr": "datum.value % 40 === 0 ? datum.label : ''", "tickSize": {"condition": {"test": "datum.value % 40 === 0", "value": -6}, "value": -3.5}, "labelPadding": 14.7, "title": "Iᴄ (μA)", "titleX": -68, "titleY": 110.3, "titleAngle": -90, "titleAlign": "center", "titleBaseline": "top"}},
         "color": {"field": "s", "type": "nominal", "scale": {"domain": ["Ref.", "4.25 K"], "range": ["#000000", "#000000"]},
                   "legend": {"orient": "none", "legendX": 117.5, "legendY": 87.75, "title": null, "rowPadding": 7, "labelOffset": 39.5, "symbolType": "M0,0H41", "symbolSize": 4, "symbolStrokeWidth": 4,
                              "encode": {"symbols": {"update": {"shape": {"signal": "datum.value === 'Ref.' ? 'M0,0H41' : 'M0,0H41M25.2,0A4.2,4.2,0,1,1,16.8,0A4.2,4.2,0,1,1,25.2,0Z'"}, "strokeWidth": {"signal": "datum.value === 'Ref.' ? 4 : 1"}, "fill": {"signal": "datum.value === 'Ref.' ? 'transparent' : '#000000'"}, "stroke": {"value": "#000000"}, "opacity": {"value": 1}}}}}},
         "strokeWidth": {"field": "s", "type": "nominal", "scale": {"domain": ["Ref.", "4.25 K"], "range": [4, 1]}, "legend": null}
        }},
       {"data": {"name": "a"}, "transform": [{"filter": "datum.s === '4.25 K'"}], "mark": {"type": "circle", "size": 54, "color": "#000000", "opacity": 1},
        "encoding": {"x": {"field": "B", "type": "quantitative", "axis": null}, "y": {"field": "Ic", "type": "quantitative", "axis": null}}},
       {"data": {"values": [{"t": "(a)"}]}, "mark": {"type": "text", "align": "left", "baseline": "middle", "fontSize": 30, "font": "Liberation Sans", "color": "#111"},
        "encoding": {
         "x": {"datum": 0.11, "type": "quantitative", "axis": {"orient": "top", "values": [0,1,2,3,4,5,6,7,8], "labels": false, "title": null, "tickSize": {"condition": {"test": "datum.value % 2 === 0", "value": -6}, "value": -3.5}}},
         "y": {"datum": 154.5, "type": "quantitative", "axis": {"orient": "right", "values": [0,20,40,60,80,100,120,140,160], "labels": false, "title": null, "tickSize": {"condition": {"test": "datum.value % 40 === 0", "value": -6}, "value": -3.5}}},
         "text": {"field": "t"}}}
      ],
      "resolve": {"axis": {"x": "independent", "y": "independent"}}
     }
    ]
   },
   {
    "width": 259, "height": 215,
    "layer": [
     {"data": {"values": [{}]}, "mark": {"type": "rule", "color": "#222", "strokeWidth": 1.2}, "encoding": {"y": {"datum": 0, "type": "quantitative", "axis": null, "scale": {"domain": [-0.5, 5.03], "nice": false, "zero": false}}}},
     {"data": {"name": "c"}, "mark": {"type": "line", "strokeWidth": 3, "strokeJoin": "round"},
      "encoding": {
       "x": {"field": "B", "type": "quantitative", "scale": {"domain": [0, 10], "nice": false, "zero": false},
             "axis": {"orient": "bottom", "values": [0,1.5,3,4.5,6,7.5,9], "labelExpr": "datum.value % 3 === 0 ? datum.label : ''", "tickSize": {"condition": {"test": "datum.value % 3 === 0", "value": -6}, "value": -3.5}, "labelPadding": 20.3, "title": "B (mT)", "titleX": 115.3, "titleY": 31.5, "titleAlign": "center", "titleBaseline": "top", "titleAngle": 0}},
       "y": {"field": "V", "type": "quantitative",
             "axis": {"orient": "left", "values": [0,1,2,3,4], "labelExpr": "datum.value % 2 === 0 ? datum.label : ''", "tickSize": {"condition": {"test": "datum.value % 2 === 0", "value": -6}, "value": -3.5}, "labelPadding": 15.4, "title": "V (μV)", "titleX": -58.7, "titleY": 127, "titleAngle": -90, "titleAlign": "center", "titleBaseline": "top"}},
       "color": {"field": "I", "type": "nominal", "scale": {"domain": ["10","20","30","40"], "range": ["#0000ff","#00ee00","#ff0000","#ff00ff"]},
                 "legend": {"orient": "none", "legendX": 1.3, "legendY": 63, "title": "I (μA)", "titlePadding": 1.5, "rowPadding": 4.5, "labelOffset": 27, "symbolType": "M-3.8,0H34.2", "symbolSize": 4, "symbolStrokeWidth": 3.5,
                            "encode": {"symbols": {"update": {"strokeWidth": {"value": 3.5}, "opacity": {"value": 1}}}}}}
      }},
     {"data": {"values": [{}]}, "mark": {"type": "rect", "color": "#000000"},
      "encoding": {"x": {"datum": 2.73, "type": "quantitative", "axis": null}, "x2": {"datum": 5.78}, "y": {"datum": 4.69, "type": "quantitative", "axis": null}, "y2": {"datum": 3.86}}},
     {"data": {"values": [{}]}, "mark": {"type": "rect", "fill": "#ffffff", "stroke": "#999999", "strokeWidth": 1},
      "encoding": {"x": {"datum": 2.47, "type": "quantitative", "axis": null}, "x2": {"datum": 5.56}, "y": {"datum": 4.86, "type": "quantitative", "axis": null}, "y2": {"datum": 4.09}}},
     {"data": {"values": [{"t": "4.25 K"}]}, "mark": {"type": "text", "align": "center", "baseline": "middle", "fontSize": 21, "font": "Liberation Sans", "color": "#111"},
      "encoding": {"x": {"datum": 4.05, "type": "quantitative", "axis": null}, "y": {"datum": 4.44, "type": "quantitative", "axis": null}, "text": {"field": "t"}}},
     {"data": {"values": [{"t": "(c)"}]}, "mark": {"type": "text", "align": "left", "baseline": "middle", "fontSize": 32, "font": "Liberation Sans", "color": "#111"},
      "encoding": {
       "x": {"datum": 0.51, "type": "quantitative", "axis": {"orient": "top", "values": [0,1.5,3,4.5,6,7.5,9], "labels": false, "title": null, "tickSize": {"condition": {"test": "datum.value % 3 === 0", "value": -6}, "value": -3.5}}},
       "y": {"datum": 4.22, "type": "quantitative", "axis": {"orient": "right", "values": [0,1,2,3,4], "labels": false, "title": null, "tickSize": {"condition": {"test": "datum.value % 2 === 0", "value": -6}, "value": -3.5}}},
       "text": {"field": "t"}}}
    ],
    "resolve": {"axis": {"x": "independent", "y": "independent"}}
   }
  ]
 },
 {
  "columns": 2,
  "align": "none",
  "spacing": -395.4,
  "resolve": {"scale": {"color": "independent"}, "legend": {"color": "independent"}},
  "concat": [
   {
    "width": 403, "height": 513,
    "layer": [
     {"data": {"values": [{}]}, "mark": {"type": "rule", "color": "#222", "strokeWidth": 1.2}, "encoding": {"y": {"datum": 0, "type": "quantitative", "axis": null, "scale": {"domain": [-4.97, 154.6], "nice": false, "zero": false}}}},
     {"data": {"name": "b"}, "mark": {"type": "line", "strokeWidth": 1.2},
      "encoding": {
       "x": {"field": "I", "type": "quantitative", "scale": {"domain": [0, 130], "nice": false, "zero": false},
             "axis": {"orient": "bottom", "values": [0,10,20,30,40,50,60,70,80,90,100,110,120], "labelExpr": "datum.value % 20 === 0 ? datum.label : ''", "tickSize": {"condition": {"test": "datum.value % 20 === 0", "value": -6}, "value": -3.5}, "labelPadding": 17.9, "title": "I (μA)", "titleX": 210.3, "titleY": 31.8, "titleAlign": "center", "titleBaseline": "top", "titleAngle": 0}},
       "y": {"field": "V", "type": "quantitative",
             "axis": {"orient": "left", "values": [0,15,30,45,60,75,90,105,120,135,150], "labelExpr": "datum.value % 30 === 0 ? datum.label : ''", "tickSize": {"condition": {"test": "datum.value % 30 === 0", "value": -6}, "value": -3.5}, "labelPadding": 15.4, "title": "V (μV)", "titleX": -47.2, "titleY": 251, "titleAngle": -90, "titleAlign": "center", "titleBaseline": "top"}},
       "color": {"field": "B", "type": "nominal", "scale": {"domain": ["0","1.26","1.58","1.89","2.52","3.78","5.19","6.30","8.82","9.76"], "range": ["#000000","#0000ff","#00eeee","#ff00ff","#808000","#008080","#ff80ff","#0000ff","#008000","#ff8000"]},
                 "legend": {"orient": "none", "legendX": 226.8, "legendY": 25.25, "title": "B (mT)", "titlePadding": 2.2, "rowPadding": 4.44, "labelOffset": 24, "symbolType": "M-7.7,0H28.3M8.45,-1.25H10.95V1.25H8.45Z", "symbolSize": 4, "symbolStrokeWidth": 1.5,
                            "encode": {"symbols": {"update": {"strokeWidth": {"value": 1.5}, "opacity": {"value": 1}}}}}}
      }},
     {"data": {"name": "b"}, "transform": [{"filter": "datum.V <= 27"}], "mark": {"type": "line", "strokeWidth": 4, "strokeJoin": "round"},
      "encoding": {"x": {"field": "I", "type": "quantitative", "axis": null}, "y": {"field": "V", "type": "quantitative", "axis": null}, "color": {"field": "B", "type": "nominal", "legend": null}}},
     {"data": {"name": "b"}, "transform": [{"filter": "datum.V > 27"}], "mark": {"type": "square", "size": 14, "opacity": 1},
      "encoding": {"x": {"field": "I", "type": "quantitative", "axis": null}, "y": {"field": "V", "type": "quantitative", "axis": null}, "color": {"field": "B", "type": "nominal", "legend": null}}},
     {"data": {"values": [{}]}, "mark": {"type": "rect", "color": "#000000"},
      "encoding": {"x": {"datum": 35.4, "type": "quantitative", "axis": null}, "x2": {"datum": 61.2}, "y": {"datum": 148.3, "type": "quantitative", "axis": null}, "y2": {"datum": 137.7}}},
     {"data": {"values": [{}]}, "mark": {"type": "rect", "fill": "#ffffff", "stroke": "#999999", "strokeWidth": 1},
      "encoding": {"x": {"datum": 33, "type": "quantitative", "axis": null}, "x2": {"datum": 58.8}, "y": {"datum": 150.2, "type": "quantitative", "axis": null}, "y2": {"datum": 139.6}}},
     {"data": {"values": [{"t": "4.25 K"}]}, "mark": {"type": "text", "align": "center", "baseline": "middle", "fontSize": 21, "font": "Liberation Sans", "color": "#111"},
      "encoding": {"x": {"datum": 45.9, "type": "quantitative", "axis": null}, "y": {"datum": 144.5, "type": "quantitative", "axis": null}, "text": {"field": "t"}}},
     {"data": {"values": [{"t": "(b)"}]}, "mark": {"type": "text", "align": "left", "baseline": "middle", "fontSize": 34, "font": "Liberation Sans", "color": "#111"},
      "encoding": {
       "x": {"datum": 3.4, "type": "quantitative", "axis": {"orient": "top", "values": [0,10,20,30,40,50,60,70,80,90,100,110,120], "labels": false, "title": null, "tickSize": {"condition": {"test": "datum.value % 20 === 0", "value": -6}, "value": -3.5}}},
       "y": {"datum": 144.3, "type": "quantitative", "axis": {"orient": "right", "values": [0,15,30,45,60,75,90,105,120,135,150], "labels": false, "title": null, "tickSize": {"condition": {"test": "datum.value % 30 === 0", "value": -6}, "value": -3.5}}},
       "text": {"field": "t"}}}
    ],
    "resolve": {"axis": {"x": "independent", "y": "independent"}}
   },
   {
    "spacing": 83.55,
    "resolve": {"scale": {"color": "independent"}, "legend": {"color": "independent"}},
    "vconcat": [
     {"width": 1, "height": 1, "data": {"values": []}, "mark": "point"},
     {
      "width": 153, "height": 253,
      "layer": [
       {"data": {"values": [{}]}, "mark": {"type": "rule", "color": "#222", "strokeWidth": 1.2}, "encoding": {"y": {"datum": 0, "type": "quantitative", "axis": null, "scale": {"domain": [-1.03, 7], "nice": false, "zero": false}}}},
       {"data": {"name": "ins"}, "mark": {"type": "line", "strokeWidth": 2.8, "strokeJoin": "round"},
        "encoding": {
         "x": {"field": "I", "type": "quantitative", "scale": {"domain": [0, 70], "nice": false, "zero": false},
               "axis": {"orient": "bottom", "values": [0,15,30,45,60], "labelExpr": "datum.value % 30 === 0 ? datum.label : ''", "tickSize": {"condition": {"test": "datum.value % 30 === 0", "value": -5}, "value": -4}, "labelFontSize": 17, "labelPadding": 17.9, "title": "I (μA)", "titleFontSize": 20, "titleX": 85.7, "titleY": 30.4, "titleAlign": "center", "titleBaseline": "top", "titleAngle": 0}},
         "y": {"field": "V", "type": "quantitative",
               "axis": {"orient": "left", "values": [0,2,4,6], "labelExpr": "datum.value % 4 === 0 ? datum.label : ''", "tickSize": {"condition": {"test": "datum.value % 4 === 0", "value": -5}, "value": -4}, "labelFontSize": 17, "labelPadding": 14.3, "title": "V (μV)", "titleFontSize": 20, "titleX": -37.3, "titleY": 104.7, "titleAngle": -90, "titleAlign": "center", "titleBaseline": "top"}},
         "color": {"field": "m", "type": "nominal", "scale": {"domain": ["3.47 mT", "4.72 mT"], "range": ["#008000", "#ff0000"]},
                   "legend": {"orient": "none", "legendX": 5, "legendY": 35.9, "title": null, "rowPadding": 4.3, "labelOffset": 29, "symbolType": "M-5.1,0H32.9", "symbolSize": 4, "symbolStrokeWidth": 3,
                              "encode": {"symbols": {"update": {"strokeWidth": {"value": 3}, "opacity": {"value": 1}}}}}}
        }},
       {"data": {"values": [{}]}, "mark": {"type": "point", "opacity": 0},
        "encoding": {
         "x": {"datum": 0, "type": "quantitative", "axis": {"orient": "top", "values": [0,15,30,45,60], "labels": false, "title": null, "tickSize": {"condition": {"test": "datum.value % 30 === 0", "value": -5}, "value": -4}}},
         "y": {"datum": 0, "type": "quantitative", "axis": {"orient": "right", "values": [0,2,4,6], "labels": false, "title": null, "tickSize": {"condition": {"test": "datum.value % 4 === 0", "value": -5}, "value": -4}}}}}
      ],
      "resolve": {"axis": {"x": "independent", "y": "independent"}}
     }
    ]
   }
  ]
 }
]
}
